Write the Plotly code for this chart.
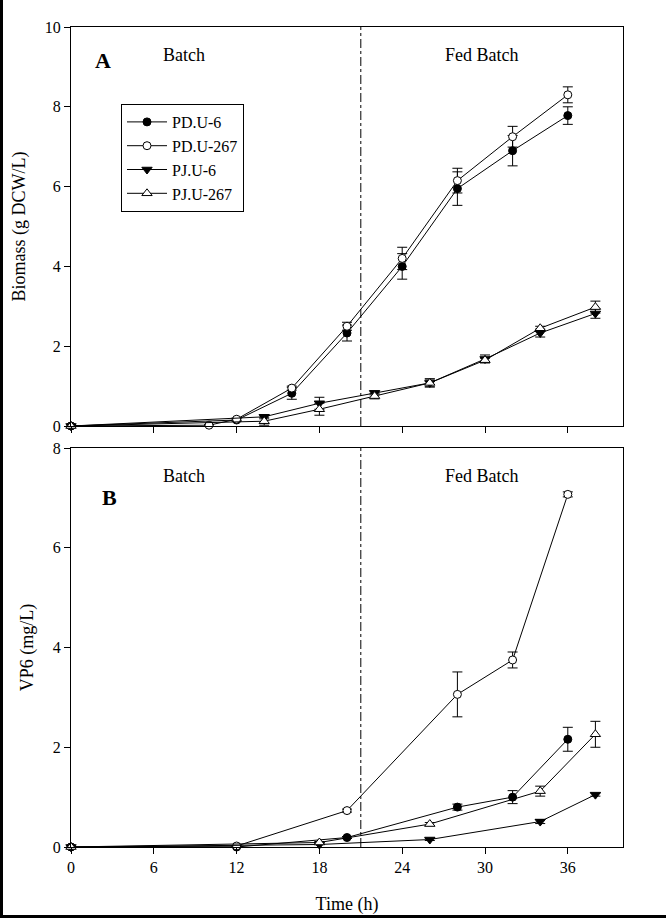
import plotly.graph_objects as go

# ---------------- Data ----------------
series_names = ["PD.U-6", "PD.U-267", "PJ.U-6", "PJ.U-267"]

# Panel A: Biomass (g DCW/L)
biomass_pdu6_t = [0, 12, 16, 20, 24, 28, 32, 36]
biomass_pdu6 = [0, 0.15, 0.82, 2.33, 4.0, 5.95, 6.9, 7.78]
biomass_pdu6_err = [0.02, 0.03, 0.15, 0.2, 0.32, 0.42, 0.38, 0.22]

biomass_pdu267_t = [0, 10, 12, 16, 20, 24, 28, 32, 36]
biomass_pdu267 = [0, 0.02, 0.17, 0.95, 2.5, 4.2, 6.15, 7.25, 8.3]
biomass_pdu267_err = [0.02, 0.02, 0.03, 0.05, 0.1, 0.28, 0.31, 0.26, 0.2]

biomass_pju6_t = [0, 14, 18, 22, 26, 30, 34, 38]
biomass_pju6 = [0, 0.23, 0.57, 0.83, 1.08, 1.68, 2.33, 2.82]
biomass_pju6_err = [0.02, 0.05, 0.15, 0.05, 0.1, 0.1, 0.1, 0.12]

biomass_pju267_t = [0, 14, 18, 22, 26, 30, 34, 38]
biomass_pju267 = [0, 0.12, 0.42, 0.75, 1.08, 1.65, 2.45, 2.98]
biomass_pju267_err = [0.02, 0.1, 0.15, 0.07, 0.1, 0.05, 0.05, 0.15]

# Panel B: VP6 (mg/L)
vp6_pdu6_t = [0, 12, 20, 28, 32, 36]
vp6_pdu6 = [0, 0.0, 0.19, 0.8, 1.0, 2.16]
vp6_pdu6_err = [0, 0, 0.02, 0.06, 0.13, 0.24]

vp6_pdu267_t = [0, 12, 20, 28, 32, 36]
vp6_pdu267 = [0, 0.02, 0.73, 3.06, 3.75, 7.07]
vp6_pdu267_err = [0, 0, 0.03, 0.45, 0.16, 0.05]

vp6_pju6_t = [0, 18, 26, 34, 38]
vp6_pju6 = [0, 0.05, 0.15, 0.51, 1.05]
vp6_pju6_err = [0, 0, 0.02, 0.04, 0.03]

vp6_pju267_t = [0, 18, 26, 34, 38]
vp6_pju267 = [0, 0.09, 0.46, 1.12, 2.26]
vp6_pju267_err = [0, 0.02, 0.03, 0.1, 0.26]

x_ticks = [0, 6, 12, 18, 24, 30, 36]
biomass_ticks = [0, 2, 4, 6, 8, 10]
vp6_ticks = [0, 2, 4, 6, 8]
phase_switch_time = 21

# ---------------- Styles ----------------
FONT = "Liberation Serif, Times New Roman, serif"
styles = {
    "PD.U-6": dict(symbol="circle", color="black", size=8),
    "PD.U-267": dict(symbol="circle", color="white", size=8),
    "PJ.U-6": dict(symbol="triangle-down", color="black", size=9),
    "PJ.U-267": dict(symbol="triangle-up", color="white", size=9),
}

panelA = [
    ("PD.U-6", biomass_pdu6_t, biomass_pdu6, biomass_pdu6_err),
    ("PD.U-267", biomass_pdu267_t, biomass_pdu267, biomass_pdu267_err),
    ("PJ.U-6", biomass_pju6_t, biomass_pju6, biomass_pju6_err),
    ("PJ.U-267", biomass_pju267_t, biomass_pju267, biomass_pju267_err),
]
panelB = [
    ("PD.U-6", vp6_pdu6_t, vp6_pdu6, vp6_pdu6_err),
    ("PD.U-267", vp6_pdu267_t, vp6_pdu267, vp6_pdu267_err),
    ("PJ.U-6", vp6_pju6_t, vp6_pju6, vp6_pju6_err),
    ("PJ.U-267", vp6_pju267_t, vp6_pju267, vp6_pju267_err),
]

fig = go.Figure()


def add_panel(data, xa, ya, showlegend):
    for name, t, y, e in data:
        st = styles[name]
        fig.add_trace(go.Scatter(
            x=t, y=y, name=name, mode="lines+markers",
            xaxis=xa, yaxis=ya, showlegend=showlegend, cliponaxis=False,
            line=dict(color="black", width=1),
            marker=dict(symbol=st["symbol"], size=st["size"], color=st["color"],
                        line=dict(color="black", width=1)),
            error_y=dict(type="data", array=e, visible=True, color="black",
                         thickness=1, width=5),
        ))


add_panel(panelA, "x", "y", True)
add_panel(panelB, "x2", "y2", False)

axis_common = dict(showline=True, linecolor="black", linewidth=1, mirror=True,
                   ticks="outside", ticklen=6, tickcolor="black", tickwidth=1,
                   showgrid=False, zeroline=False, automargin=False,
                   tickfont=dict(family=FONT, size=16, color="black"))

top_dom = [(847 - 426) / 820, 1.0]
bot_dom = [0.0, (847 - 448) / 820]

fig.update_layout(
    width=666, height=918,
    margin=dict(l=71, r=43, t=27, b=71),
    paper_bgcolor="white", plot_bgcolor="white",
    font=dict(family=FONT, size=16, color="black"),
    xaxis=dict(axis_common, range=[0, 40], tickvals=x_ticks, showticklabels=False,
               domain=[0, 1], anchor="y"),
    yaxis=dict(axis_common, range=[0, 10], tickvals=biomass_ticks, domain=top_dom,
               anchor="x",
               title=dict(text="Biomass (g DCW/L)", font=dict(family=FONT, size=18),
                          standoff=14)),
    xaxis2=dict(axis_common, range=[0, 40], tickvals=x_ticks, domain=[0, 1],
                anchor="y2",
                title=dict(text="Time (h)", font=dict(family=FONT, size=18), standoff=22)),
    yaxis2=dict(axis_common, range=[0, 8], tickvals=vp6_ticks, domain=bot_dom,
                anchor="x2",
                title=dict(text="VP6 (mg/L)", font=dict(family=FONT, size=18), standoff=14)),
    legend=dict(x=(121 - 71) / 552, y=(847 - 104) / 820, xanchor="left", yanchor="top",
                bordercolor="black", borderwidth=1, bgcolor="white",
                font=dict(family=FONT, size=16, color="black"),
                tracegroupgap=0, itemwidth=40),
    showlegend=True,
)

# phase separators
for ya in ["y", "y2"]:
    fig.add_shape(type="line", xref="x" if ya == "y" else "x2", yref=f"{ya} domain",
                  x0=phase_switch_time, x1=phase_switch_time, y0=0, y1=1,
                  line=dict(color="black", width=1, dash="dashdot"))

# labels
ann = [
    ("A", "x", "y", 2.3, 9.15, True, 22),
    ("Batch", "x", "y", 8.2, 9.3, False, 18),
    ("Fed Batch", "x", "y", 29.8, 9.3, False, 18),
    ("B", "x2", "y2", 2.8, 7.0, True, 22),
    ("Batch", "x2", "y2", 8.2, 7.43, False, 18),
    ("Fed Batch", "x2", "y2", 29.8, 7.43, False, 18),
]
for text, xr, yr, xv, yv, bold, sz in ann:
    fig.add_annotation(text=f"<b>{text}</b>" if bold else text, xref=xr, yref=yr,
                       x=xv, y=yv, showarrow=False,
                       font=dict(family=FONT, size=sz, color="black"))

# image frame (left and bottom black edges)
fig.add_shape(type="rect", xref="paper", yref="paper", x0=-71 / 552, x1=-68 / 552,
              y0=-71 / 820, y1=(918 - 71) / 820 + 27 / 820, fillcolor="black",
              line=dict(width=0), layer="above")
fig.add_shape(type="rect", xref="paper", yref="paper", x0=-71 / 552, x1=(552 + 43) / 552,
              y0=-71 / 820, y1=-68 / 820, fillcolor="black", line=dict(width=0),
              layer="above")

fig.write_html("out.html", config={"displayModeBar": False},
               post_script="document.body.style.margin='0';document.body.style.overflow='hidden';")
